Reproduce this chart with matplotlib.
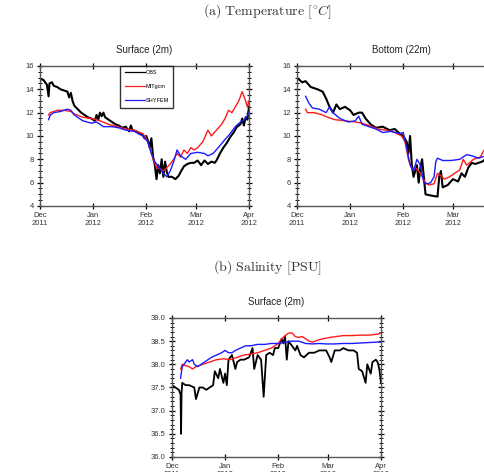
import matplotlib
matplotlib.use('Agg')
import matplotlib.pyplot as plt
from matplotlib.ticker import MultipleLocator

plt.rcParams['font.family'] = ['Liberation Sans', 'DejaVu Sans']
plt.rcParams['mathtext.fontset'] = 'cm'

# days since 1 Dec 2011
month_days = [0, 31, 62, 91, 122]
month_labels = ['Dec\n2011', 'Jan\n2012', 'Feb\n2012', 'Mar\n2012', 'Apr\n2012']

# surface temperature
ts_obs_d = [0, 2, 4, 5, 5.5, 7, 8, 10, 12, 14, 16, 17, 18, 19, 20, 22, 24, 26, 28, 30, 32, 33, 34, 35, 36,
            37, 38, 40, 42, 44, 46, 48, 50, 52, 53, 54, 56, 58, 60, 61, 62, 63, 64, 65, 66, 67, 68, 69, 70,
            71, 72, 73, 74, 75, 77, 79, 81, 82, 84, 86, 88, 90, 92, 94, 96, 98, 100, 102, 103, 105, 107,
            109, 111, 113, 115, 117, 118, 119, 120, 121, 122]
ts_obs = [14.9, 14.8, 14.4, 13.4, 14.5, 14.6, 14.3, 14.2, 14.0, 13.9, 13.8, 13.3, 13.7, 13.0, 12.6, 12.3, 12.0,
          11.8, 11.6, 11.5, 11.3, 11.8, 11.4, 12.0, 11.7, 12.0, 11.6, 11.4, 11.2, 11.0, 10.9, 10.7, 10.8,
          10.4, 10.9, 10.5, 10.4, 10.2, 10.1, 9.8, 10.0, 9.6, 9.0, 9.8, 8.2, 7.5, 6.3, 7.5, 6.8, 8.0, 6.5,
          7.8, 6.9, 6.5, 6.5, 6.3, 6.6, 6.9, 7.4, 7.6, 7.7, 7.7, 7.9, 7.5, 7.9, 7.6, 7.8, 7.7, 7.9, 8.5,
          9.0, 9.4, 9.9, 10.3, 10.8, 11.0, 11.5, 10.9, 11.6, 11.4, 12.5]

ts_mit_d = [5, 6, 8, 10, 14, 18, 20, 25, 30, 35, 40, 45, 50, 55, 60, 62, 64, 66, 68, 70, 72, 74, 76, 78,
            80, 82, 84, 86, 88, 90, 92, 95, 98, 100, 103, 106, 108, 110, 112, 114, 116, 118, 120, 121, 122]
ts_mit = [11.8, 12.0, 12.1, 12.2, 12.2, 12.1, 11.9, 11.6, 11.5, 11.3, 11.0, 10.8, 10.6, 10.5, 10.2, 9.8,
          9.0, 8.0, 7.3, 7.2, 7.0, 7.3, 7.6, 8.0, 8.5, 8.2, 8.8, 8.5, 9.0, 8.8, 9.0, 9.5, 10.5, 10.0,
          10.5, 11.0, 11.5, 12.2, 12.0, 12.5, 13.0, 13.8, 13.0, 12.5, 13.0]

ts_shy_d = [5, 6, 8, 12, 16, 18, 20, 25, 30, 33, 37, 42, 46, 50, 55, 60, 63, 65, 67, 70, 72, 74, 76, 78,
            80, 82, 85, 88, 92, 96, 98, 101, 104, 108, 111, 114, 117, 120, 122]
ts_shy = [11.4, 11.8, 12.0, 12.1, 12.3, 12.2, 11.8, 11.3, 11.1, 11.2, 10.8, 10.8, 10.7, 10.5, 10.4, 10.0,
          9.5, 8.5, 7.8, 7.2, 6.8, 6.5, 7.0, 7.8, 8.8, 8.3, 8.0, 8.5, 8.6, 8.5, 8.3, 8.5, 9.0, 9.7, 10.2,
          10.8, 11.2, 11.5, 12.0]

# bottom temperature
tb_obs_d = [0, 3, 5, 8, 12, 15, 17, 19, 21, 23, 25, 28, 31, 33, 36, 38, 40, 43, 46, 50, 54, 57, 60, 62,
            64, 65, 66, 67, 68, 70, 71, 72, 73, 74, 75, 78, 82, 83, 84, 85, 88, 91, 94, 96, 98, 100, 102,
            104, 108, 110, 112, 114, 118, 122]
tb_obs = [15.0, 14.6, 14.7, 14.2, 14.0, 13.8, 13.2, 12.5, 12.0, 12.7, 12.3, 12.5, 12.2, 11.8, 12.0, 12.0,
          11.5, 11.0, 10.7, 10.8, 10.5, 10.6, 10.2, 10.0, 9.5, 8.5, 10.0, 7.5, 6.5, 7.5, 6.0, 7.3, 8.0,
          6.5, 5.0, 4.9, 4.8, 6.5, 7.0, 5.6, 5.8, 6.3, 6.1, 6.8, 6.5, 7.3, 7.7, 7.6, 7.8, 8.0, 7.8, 7.9,
          8.0, 8.1]

tb_mit_d = [5, 6, 10, 15, 18, 22, 28, 34, 38, 42, 47, 52, 57, 61, 63, 65, 67, 69, 72, 75, 77, 80, 82, 84,
            86, 89, 92, 95, 97, 99, 103, 107, 110, 114, 118, 122]
tb_mit = [12.3, 12.0, 12.0, 11.8, 11.6, 11.4, 11.3, 11.2, 11.1, 10.9, 10.6, 10.5, 10.3, 10.0, 9.5, 8.0,
          7.2, 7.3, 6.8, 6.0, 5.8, 5.9, 6.8, 6.6, 6.3, 6.5, 6.8, 7.1, 8.0, 7.5, 8.0, 8.2, 9.0, 9.2, 9.4,
          9.5]

tb_shy_d = [5, 7, 9, 13, 17, 19, 21, 25, 30, 34, 36, 38, 42, 46, 50, 55, 60, 62, 64, 66, 68, 70, 72, 74,
            76, 78, 80, 81, 82, 85, 90, 95, 99, 102, 106, 110, 114, 118, 122]
tb_shy = [13.4, 12.8, 12.4, 12.3, 12.0, 12.5, 12.0, 11.5, 11.2, 11.3, 11.7, 11.0, 10.8, 10.6, 10.3, 10.4,
          10.2, 10.3, 9.0, 7.5, 7.0, 8.0, 7.5, 6.0, 5.9, 6.0, 6.5, 7.8, 8.1, 7.9, 7.9, 8.0, 8.4, 8.3, 8.1,
          8.3, 8.3, 8.4, 8.4]

# surface salinity
s_obs_d = [0, 2, 4, 5, 5.3, 5.6, 6, 8, 10, 13, 14, 16, 18, 20, 22, 24, 25, 27, 28, 30, 31, 32, 33, 35,
           37, 38, 40, 42, 45, 47, 48, 50, 52, 53.5, 55, 57, 59, 60, 62, 64, 65, 66, 67, 68, 70, 72, 73,
           75, 77, 80, 83, 86, 90, 92, 93, 95, 98, 100, 103, 106, 108, 109, 111, 113, 114, 116, 117, 119,
           120, 121, 122]
s_obs = [37.55, 37.5, 37.45, 37.35, 36.5, 37.4, 37.6, 37.55, 37.55, 37.5, 37.25, 37.5, 37.5, 37.45, 37.5,
         37.55, 37.85, 37.7, 37.9, 37.6, 37.8, 37.55, 38.1, 38.2, 37.9, 38.05, 38.1, 38.1, 38.15, 38.35,
         37.9, 38.2, 38.1, 37.3, 38.2, 38.25, 38.2, 38.35, 38.35, 38.55, 38.45, 38.6, 38.1, 38.5, 38.4,
         38.3, 38.4, 38.2, 38.15, 38.25, 38.25, 38.3, 38.3, 38.15, 38.05, 38.3, 38.3, 38.35, 38.3, 38.3,
         38.25, 37.9, 37.85, 37.6, 38.0, 37.8, 38.05, 38.1, 38.05, 37.9, 37.6]

s_mit_d = [5, 6, 8, 10, 12, 14, 18, 22, 26, 30, 34, 38, 42, 46, 50, 54, 58, 62, 64, 66, 68, 70, 72, 74,
           76, 78, 80, 82, 85, 88, 92, 96, 100, 105, 110, 115, 120, 122]
s_mit = [37.9, 38.0, 37.97, 37.95, 37.9, 37.95, 38.0, 38.05, 38.1, 38.12, 38.1, 38.15, 38.2, 38.22, 38.25,
         38.3, 38.35, 38.45, 38.55, 38.62, 38.67, 38.68, 38.6, 38.58, 38.6, 38.55, 38.5, 38.48, 38.52,
         38.55, 38.58, 38.6, 38.62, 38.62, 38.63, 38.63, 38.65, 38.68]

s_shy_d = [5, 6, 8, 9, 10, 12, 13, 15, 17, 19, 21, 23, 26, 29, 31, 33, 35, 37, 40, 43, 46, 50, 54, 58,
           62, 66, 70, 74, 78, 82, 86, 90, 95, 100, 105, 110, 115, 120, 122]
s_shy = [37.7, 37.95, 38.05, 38.1, 38.05, 38.1, 38.0, 37.95, 38.0, 38.05, 38.1, 38.15, 38.2, 38.25, 38.3,
         38.25, 38.25, 38.3, 38.35, 38.4, 38.4, 38.43, 38.43, 38.45, 38.45, 38.48, 38.5, 38.5, 38.45,
         38.44, 38.45, 38.44, 38.44, 38.45, 38.45, 38.46, 38.47, 38.48, 38.48]


def style_axis(ax, ylim, major, minor, fmt):
    ax.set_xlim(0, 122)
    ax.set_ylim(*ylim)
    ax.set_xticks(month_days)
    ax.set_xticklabels(month_labels)
    ax.yaxis.set_major_locator(MultipleLocator(major))
    ax.yaxis.set_minor_locator(MultipleLocator(minor))
    ax.yaxis.set_major_formatter(fmt)
    ax.tick_params(which='major', direction='inout', length=5, width=0.9, labelsize=5.5,
                   top=True, right=True, labelcolor='#333333', pad=2)
    ax.tick_params(which='minor', direction='inout', length=2.5, width=0.7, right=True)
    ax.tick_params(axis='x', which='minor', bottom=False, top=False)
    for s in ax.spines.values():
        s.set_color('#555555')
        s.set_linewidth(1.0)


fig = plt.figure(figsize=(4.85, 4.72), dpi=100)

ax1 = fig.add_axes([0.0825, 0.5636, 0.431, 0.2966])
ax1.plot(ts_obs_d, ts_obs, color='black', lw=1.5, label='OBS')
ax1.plot(ts_mit_d, ts_mit, color='#ff1a1a', lw=1.0, label='MITgcm')
ax1.plot(ts_shy_d, ts_shy, color='#1a1aff', lw=1.0, label='SHYFEM')
style_axis(ax1, (4, 16), 2, 0.5, '{x:.0f}')
ax1.set_title('Surface (2m)', fontsize=7, pad=9, color='#222222')
leg = ax1.legend(loc='upper left', bbox_to_anchor=(0.383, 1.0), fontsize=4, frameon=True,
                 fancybox=False, borderaxespad=0, handlelength=3.6, labelspacing=1.6,
                 handletextpad=0.15, borderpad=0.8)
leg.get_frame().set_edgecolor('black')
leg.get_frame().set_linewidth(1.0)
for ln in leg.get_lines():
    ln.set_linewidth(0.9)

ax2 = fig.add_axes([0.6124, 0.5636, 0.431, 0.2966])
ax2.plot(tb_obs_d, tb_obs, color='black', lw=1.5)
ax2.plot(tb_mit_d, tb_mit, color='#ff1a1a', lw=1.0)
ax2.plot(tb_shy_d, tb_shy, color='#1a1aff', lw=1.0)
style_axis(ax2, (4, 16), 2, 0.5, '{x:.0f}')
ax2.set_title('Bottom (22m)', fontsize=7, pad=9, color='#222222')

ax3 = fig.add_axes([0.3546, 0.0318, 0.431, 0.2945])
ax3.plot(s_obs_d, s_obs, color='black', lw=1.3)
ax3.plot(s_mit_d, s_mit, color='#ff1a1a', lw=1.0)
ax3.plot(s_shy_d, s_shy, color='#1a1aff', lw=1.0)
style_axis(ax3, (36, 39), 0.5, 0.1, '{x:.1f}')
ax3.set_title('Surface (2m)', fontsize=7, pad=9, color='#222222')

fig.text(0.552, 0.975, r'$\mathrm{(a)\ Temperature\ [^{\circ}}C\mathrm{]}$', ha='center', va='center',
         fontsize=10, color='#333333')
fig.text(0.552, 0.432, r'$\mathrm{(b)\ Salinity\ [PSU]}$', ha='center', va='center',
         fontsize=10, color='#333333')

fig.savefig('out.png', dpi=100)
